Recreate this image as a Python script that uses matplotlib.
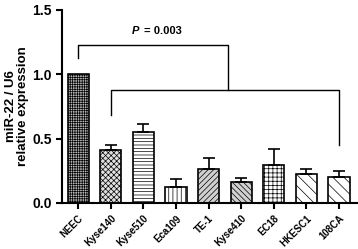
import matplotlib.pyplot as plt

cells = ["NEEC", "Kyse140", "Kyse510", "Eca109", "TE-1", "Kyse410", "EC18", "HKESC1", "108CA"]
expr = [1.0, 0.41, 0.55, 0.125, 0.265, 0.16, 0.295, 0.225, 0.20]
err = [0.0, 0.04, 0.06, 0.06, 0.085, 0.035, 0.125, 0.035, 0.05]
hatches = ["+++++++", "xxxxxx", "-----", "||||", "//////", "\\\\\\\\\\\\", "++++", "\\\\\\", "\\\\\\"]
faces = ["#b8b8b8", "#e0e0e0", "white", "white", "#d0d0d0", "#d0d0d0", "white", "white", "white"]
p_text = "= 0.003"

plt.rcParams['font.family'] = ['Liberation Sans', 'DejaVu Sans']
plt.rcParams['hatch.linewidth'] = 0.5
fig = plt.figure(figsize=(3.58, 2.49), dpi=100)
ax = fig.add_axes([0.173, 0.185, 0.824, 0.775])

x = list(range(len(cells)))
for i in x:
    ax.bar(i, expr[i], width=0.65, color=faces[i], edgecolor="black",
           hatch=hatches[i], linewidth=1.2, zorder=2)
    if err[i] > 0:
        ax.errorbar(i, expr[i], yerr=[[0], [err[i]]], fmt="none",
                    ecolor="black", elinewidth=1.2, capsize=4, capthick=1.2, zorder=3)

# significance brackets
lw = 1.0
ax.plot([0, 0, 4.6, 4.6], [1.125, 1.225, 1.225, 0.875], color="black", lw=lw)
ax.plot([1, 1, 8, 8], [0.68, 0.875, 0.875, 0.45], color="black", lw=lw)
ax.text(1.64, 1.34, "P", ha="left", va="center", fontsize=8,
        fontweight="bold", fontstyle="italic")
ax.text(2.02, 1.34, p_text, ha="left", va="center",
        fontsize=8, fontweight="bold")

ax.set_xlim(-0.5, 8.55)
ax.set_ylim(0, 1.5)
ax.set_yticks([0.0, 0.5, 1.0, 1.5])
ax.set_yticklabels(["0.0", "0.5", "1.0", "1.5"], fontsize=10, fontweight="bold")
ax.set_xticks(x)
ax.set_xticklabels(cells, rotation=45, ha="right", rotation_mode="anchor",
                   fontsize=7, fontweight="bold")
ax.set_ylabel("miR-22 / U6\nrelative expression", fontsize=9.5, fontweight="bold",
              linespacing=1.0, labelpad=2)
for s in ["top", "right"]:
    ax.spines[s].set_visible(False)
for s in ["left", "bottom"]:
    ax.spines[s].set_linewidth(1.5)
ax.tick_params(width=1.5, length=4)

fig.savefig("out.png", dpi=100)
